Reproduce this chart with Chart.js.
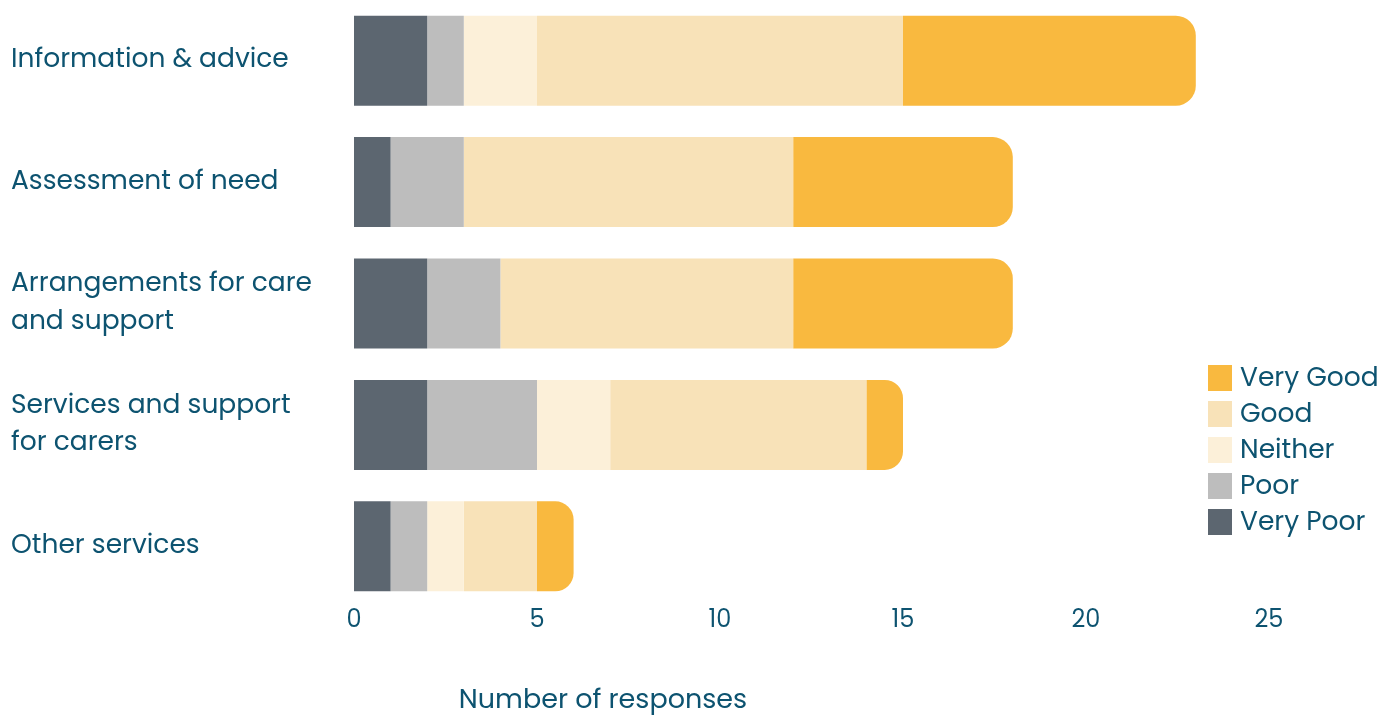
<!DOCTYPE html>
<html>
<head>
<meta charset="utf-8">
<script src="https://cdn.jsdelivr.net/npm/chart.js@4"></script>
<style>
  html, body { margin: 0; padding: 0; background: #ffffff; }
  #wrap { width: 1397px; height: 718px; position: relative; }
</style>
</head>
<body>
<div id="wrap"><canvas id="chart"></canvas></div>
<script>
// ─── Data ────────────────────────────────────────────────────────────────────
const categories = [
  "Information & advice",
  "Assessment of need",
  ["Arrangements for care", "and support"],
  ["Services and support", "for carers"],
  "Other services",
];
const seriesNames = ["Very Poor", "Poor", "Neither", "Good", "Very Good"];
const veryPoor = [2, 1, 2, 2, 1];
const poor     = [1, 2, 2, 3, 1];
const neither  = [2, 0, 0, 2, 1];
const good     = [10, 9, 8, 7, 2];
const veryGood = [8, 6, 6, 1, 1];
const xTicks   = [0, 5, 10, 15, 20, 25];
const axisTitle = "Number of responses";

// ─── Styling ─────────────────────────────────────────────────────────────────
const TEXT = "#0d5370";
const FONT = "Poppins, 'Open Sans', 'Noto Sans', sans-serif";
const COLORS = ["#5c6670", "#bdbdbd", "#fcf0d9", "#f8e2b8", "#f9b93f"];
const seriesValues = [veryPoor, poor, neither, good, veryGood];

const datasets = seriesNames.map((name, i) => ({
  label: name,
  data: seriesValues[i],
  backgroundColor: COLORS[i],
  borderWidth: 0,
  // only the outer end of each stack is rounded
  borderRadius: i === seriesNames.length - 1 ? 20 : 0,
  borderSkipped: "start",
  categoryPercentage: 0.741,
  barPercentage: 1.0,
}));

// Legend + axis title drawn by hand: the legend sits inside the plot area.
const extrasPlugin = {
  id: "extras",
  afterDraw(chart) {
    const ctx = chart.ctx;
    ctx.save();
    ctx.font = "26.5px " + FONT;
    ctx.textBaseline = "middle";
    ctx.textAlign = "left";
    const ds = chart.data.datasets;
    let y = 378;
    for (let i = ds.length - 1; i >= 0; i--) {
      ctx.fillStyle = ds[i].backgroundColor;
      ctx.fillRect(1208, y - 13, 24, 26);
      ctx.fillStyle = TEXT;
      ctx.fillText(ds[i].label, 1240, y + 1);
      y += 36;
    }
    // axis title
    ctx.textAlign = "center";
    ctx.font = "27px " + FONT;
    ctx.fillText(axisTitle, 603, 701);
    ctx.restore();
  },
};

new Chart(document.getElementById("chart"), {
  type: "bar",
  data: { labels: categories, datasets: datasets },
  plugins: [extrasPlugin],
  options: {
    indexAxis: "y",
    responsive: true,
    maintainAspectRatio: false,
    animation: false,
    layout: { padding: { left: 11, right: 128, top: 0, bottom: 0 } },
    plugins: {
      legend: { display: false },
      tooltip: { enabled: false },
    },
    scales: {
      x: {
        stacked: true,
        min: 0,
        max: 25,
        afterBuildTicks: (scale) => {
          scale.ticks = xTicks.map((v) => ({ value: v }));
        },
        afterFit: (scale) => {
          scale.height = 111;
          scale.paddingLeft = 0;
          scale.paddingRight = 0;
        },
        grid: { display: false, drawTicks: false },
        border: { display: false },
        ticks: {
          color: TEXT,
          font: { family: FONT, size: 24 },
          padding: 0,
          maxRotation: 0,
        },
      },
      y: {
        stacked: true,
        afterFit: (scale) => {
          scale.width = 343;
          scale.paddingTop = 0;
          scale.paddingBottom = 0;
        },
        grid: { display: false, drawTicks: false },
        border: { display: false },
        ticks: {
          color: TEXT,
          crossAlign: "far",
          padding: 0,
          font: { family: FONT, size: 26.5, lineHeight: 1.43 },
        },
      },
    },
  },
});
</script>
</body>
</html>
